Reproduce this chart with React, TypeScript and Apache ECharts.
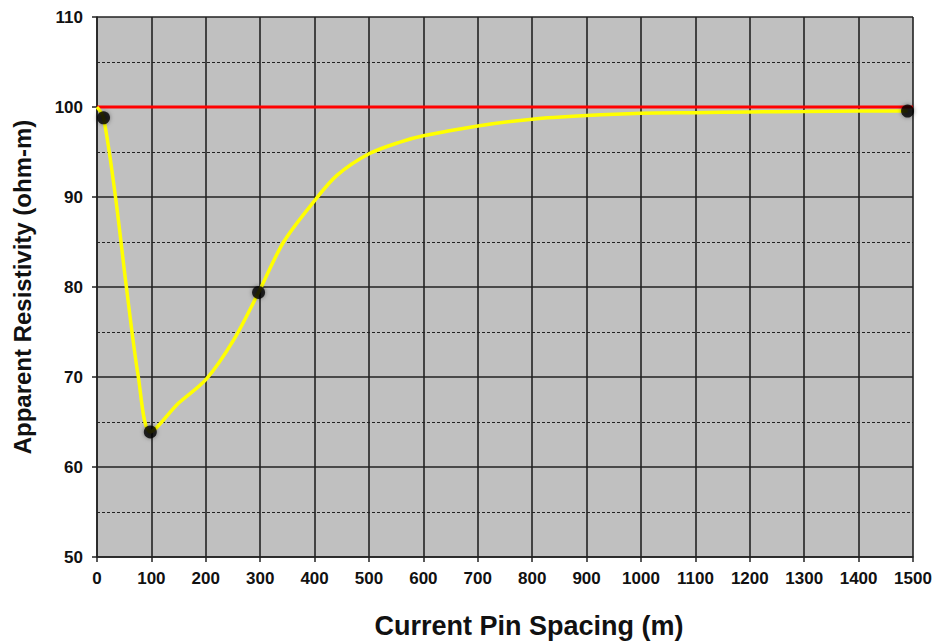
import React, { useEffect, useRef } from "react";
import * as echarts from "echarts";

const curveX = [0, 12, 34, 54, 76, 98, 150, 200, 251, 297, 343, 400, 441, 500, 557, 600, 700, 800, 900, 1000, 1100, 1200, 1300, 1400, 1490];
const curveY = [100, 98.8, 90, 80, 70, 63.9, 67.1, 69.7, 74.1, 79.4, 85, 89.6, 92.4, 94.8, 96.1, 96.8, 97.9, 98.65, 99.05, 99.3, 99.37, 99.45, 99.5, 99.55, 99.55];
const pointX = [12, 98, 297, 1490];
const pointY = [98.8, 63.9, 79.4, 99.55];
const refX = [0, 1500];
const refY = [100, 100];

const FONT = "'Liberation Sans', Arial, sans-serif";

export default function App() {
  const ref = useRef<HTMLDivElement>(null);
  useEffect(() => {
    if (!ref.current) return;
    const chart = echarts.init(ref.current, null, { renderer: "svg" });
    chart.setOption({
      animation: false,
      backgroundColor: "#ffffff",
      grid: {
        left: 97,
        top: 17,
        width: 816,
        height: 540,
        show: true,
        backgroundColor: "#c0c0c0",
        borderWidth: 0,
        outerBoundsMode: "none",
        containLabel: false,
      },
      xAxis: {
        type: "value",
        min: 0,
        max: 1500,
        interval: 100,
        name: "Current Pin Spacing (m)",
        nameLocation: "middle",
        nameGap: 55,
        nameTextStyle: { fontFamily: FONT, fontWeight: "bold", fontSize: 27, lineHeight: 27, color: "#111", padding: [0, 0, 0, 48] },
        axisLine: { show: true, lineStyle: { color: "#222", width: 1.5 } },
        axisTick: { show: true, length: 5, lineStyle: { color: "#222", width: 1.5 } },
        axisLabel: { fontFamily: FONT, fontWeight: "bold", fontSize: 17, color: "#111", margin: 13, formatter: (v: number) => String(v) },
        splitLine: { show: true, lineStyle: { color: "#222", width: 1.6 } },
      },
      yAxis: {
        type: "value",
        min: 50,
        max: 110,
        interval: 10,
        name: "Apparent Resistivity (ohm-m)",
        nameLocation: "middle",
        nameGap: 63,
        nameTextStyle: { fontFamily: FONT, fontWeight: "bold", fontSize: 24, color: "#111" },
        axisLine: { show: true, lineStyle: { color: "#222", width: 1.5 } },
        axisTick: { show: true, length: 5, lineStyle: { color: "#222", width: 1.5 } },
        axisLabel: { fontFamily: FONT, fontWeight: "bold", fontSize: 17, color: "#111", margin: 14, formatter: (v: number) => String(v) },
        splitLine: { show: true, lineStyle: { color: "#222", width: 1.6 } },
        minorTick: { show: false, splitNumber: 2 },
        minorSplitLine: { show: true, lineStyle: { color: "#222", width: 1.2, type: [3, 2] } },
      },
      series: [
        {
          type: "line",
          data: refX.map((x, i) => [x, refY[i]]),
          symbol: "none",
          lineStyle: { color: "#ff0000", width: 3 },
          z: 2,
        },
        {
          type: "line",
          data: curveX.map((x, i) => [x, curveY[i]]),
          symbol: "none",
          smooth: 0.3,
          lineStyle: { color: "#ffff00", width: 3.5 },
          z: 3,
        },
        {
          type: "scatter",
          data: pointX.map((x, i) => [x, pointY[i]]),
          symbol: "circle",
          symbolSize: 13,
          itemStyle: { color: "#000000", shadowBlur: 4, shadowColor: "rgba(0,0,0,0.5)" },
          z: 4,
        },
      ],
    });
    return () => chart.dispose();
  }, []);
  return <div ref={ref} style={{ width: 935, height: 641, position: "absolute", left: 0, top: 0, overflow: "hidden" }} />;
}
